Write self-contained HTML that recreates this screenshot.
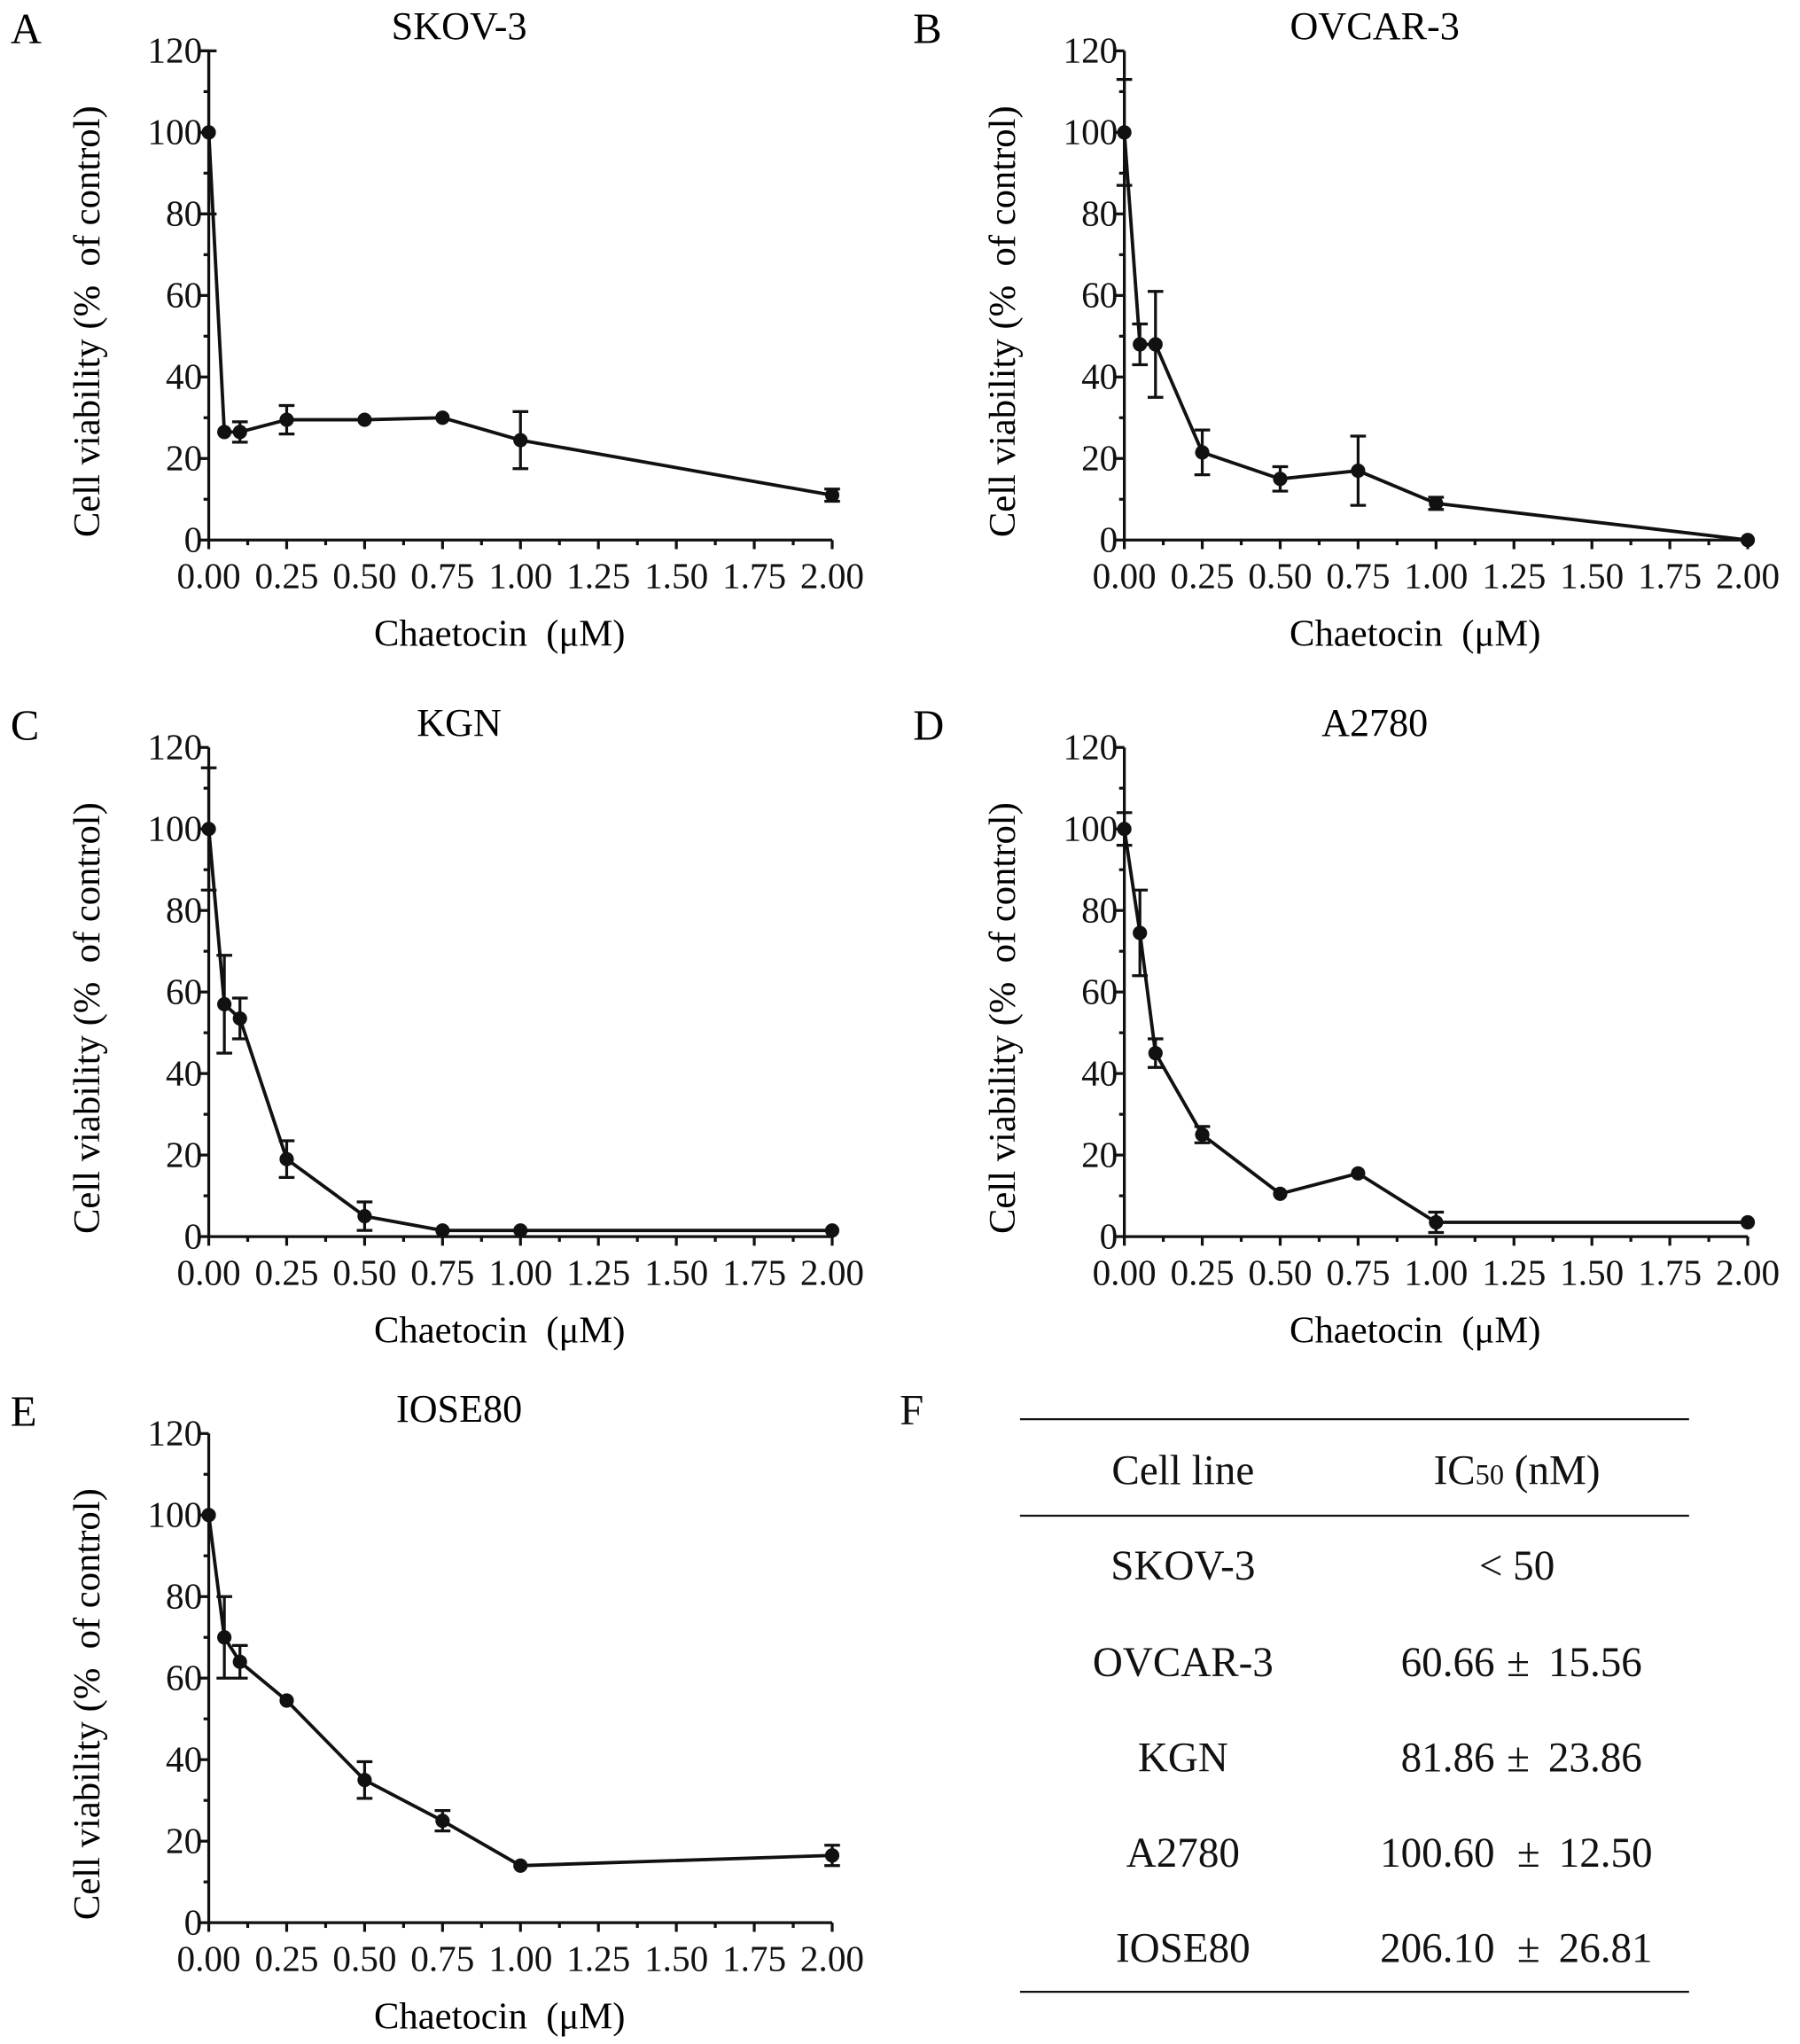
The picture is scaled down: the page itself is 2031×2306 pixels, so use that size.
<!DOCTYPE html>
<html><head><meta charset="utf-8"><style>
html,body{margin:0;padding:0;background:#fff;}
svg{display:block;font-family:"Liberation Serif",serif;}
</style></head><body>
<svg id="fig" width="2031" height="2306" viewBox="0 0 1380 1567" xmlns="http://www.w3.org/2000/svg">
<rect width="1380" height="1567" fill="#fff"/>
<g id="plots"></g>
<g font-size="32" text-anchor="middle" fill="#111">
<text x="699" y="1092" font-size="33">F</text>
<line x1="782" y1="1088" x2="1295" y2="1088" stroke="#111" stroke-width="1.5"/>
<line x1="782" y1="1162" x2="1295" y2="1162" stroke="#111" stroke-width="1.5"/>
<line x1="782" y1="1527" x2="1295" y2="1527" stroke="#111" stroke-width="1.5"/>
<text x="907" y="1138">Cell line</text>
<text x="1163" y="1138">IC<tspan font-size="22">50</tspan> (nM)</text>
<text x="907" y="1211">SKOV-3</text><text x="1163" y="1211">&lt; 50</text>
<text x="907" y="1285">OVCAR-3</text>
<text x="907" y="1358">KGN</text>
<text x="907" y="1431">A2780</text>
<text x="907" y="1504">IOSE80</text>
<g text-anchor="end"><text x="1146" y="1285">60.66</text><text x="1146" y="1358">81.86</text><text x="1146" y="1431">100.60</text><text x="1146" y="1504">206.10</text></g>
<g><text x="1164" y="1285">±</text><text x="1164" y="1358">±</text><text x="1172" y="1431">±</text><text x="1172" y="1504">±</text></g>
<g text-anchor="start"><text x="1187" y="1285">15.56</text><text x="1187" y="1358">23.86</text><text x="1195" y="1431">12.50</text><text x="1195" y="1504">26.81</text></g>
</g>
</svg>
<script>
const doses = [0, 0.05, 0.1, 0.25, 0.5, 0.75, 1, 2];
const skovMean = [100, 26.5, 26.5, 29.5, 29.5, 30, 24.5, 11];
const skovErr = [20, 0, 2.5, 3.5, 0, 0, 7, 1.5];
const ovcarMean = [100, 48, 48, 21.5, 15, 17, 9, 0];
const ovcarErr = [13, 5, 13, 5.5, 3, 8.5, 1.5, 0];
const kgnMean = [100, 57, 53.5, 19, 5, 1.5, 1.5, 1.5];
const kgnErr = [15, 12, 5, 4.5, 3.5, 0, 0, 0];
const a2780Mean = [100, 74.5, 45, 25, 10.5, 15.5, 3.5, 3.5];
const a2780Err = [4, 10.5, 3.5, 2, 0, 0, 2.5, 0];
const ioseMean = [100, 70, 64, 54.5, 35, 25, 14, 16.5];
const ioseErr = [0, 10, 4, 0, 4.5, 2.5, 0, 2.5];
const xTicks = ["0.00","0.25","0.50","0.75","1.00","1.25","1.50","1.75","2.00"];
const yTicks = ["0","20","40","60","80","100","120"];

const NS = "http://www.w3.org/2000/svg";
const root = document.getElementById('plots');
function mk(tag, attrs, parent, text){
  const e = document.createElementNS(NS, tag);
  for (const k in attrs) e.setAttribute(k, attrs[k]);
  if (text !== undefined) e.textContent = text;
  parent.appendChild(e); return e;
}
function panel(letter, title, ox, oy, mean, err, lx){
  const g = mk('g', {}, root);
  
  
  const x0 = ox, x1 = ox + 478, y0 = oy, yTop = oy - 375;
  const sx = v => x0 + v / 2 * (x1 - x0);
  const sy = v => y0 - v / 120 * (y0 - yTop);
  const L = mk('text', {x: lx, y: yTop - 6, 'font-size': 33}, g, letter);
  
  
  const T = mk('text', {x: ox + 192, y: yTop - 9, 'font-size': 30, 'text-anchor': 'middle'}, g, title);
  
  
  const ax = mk('g', {stroke: '#111', 'stroke-width': 2.2}, g);
  
  
  mk('line', {x1: x0, y1: y0, x2: x0, y2: yTop}, ax);
  mk('line', {x1: x0, y1: y0, x2: x1, y2: y0}, ax);
  for (let v = 0; v <= 120; v += 10) {
    const major = v % 20 === 0;
    mk('line', {x1: x0 - (major ? 7 : 4), y1: sy(v), x2: x0, y2: sy(v)}, ax);
  }
  for (let i = 0; i <= 16; i++) {
    const major = i % 2 === 0;
    const xx = sx(i * 0.125);
    mk('line', {x1: xx, y1: y0, x2: xx, y2: y0 + (major ? 7 : 4)}, ax);
  }
  const tl = mk('g', {'font-size': 28, fill: '#111'}, g);
  
  
  yTicks.forEach(t => mk('text', {x: x0 - 5, y: sy(+t) + 9, 'text-anchor': 'end'}, tl, t));
  xTicks.forEach(t => mk('text', {x: sx(+t), y: y0 + 37, 'text-anchor': 'middle'}, tl, t));
  const yt = mk('text', {x: 0, y: 0, 'font-size': 29, 'text-anchor': 'middle', style: 'white-space:pre', transform: `translate(${x0 - 84},${(y0 + yTop) / 2 + 20}) rotate(-90)`}, g, 'Cell viability (%  of control)');
  
  
  const xt = mk('text', {x: ox + 223, y: y0 + 81, 'font-size': 29, 'text-anchor': 'middle', style: 'white-space:pre'}, g, 'Chaetocin  (μM)');
  
  
  const pts = doses.map((d, i) => sx(d) + ',' + sy(mean[i])).join(' ');
  const line = mk('polyline', {points: pts, fill: 'none', stroke: '#111', 'stroke-width': 2.6}, g);
  
  
  doses.forEach((d, i) => {
    const cx = sx(d), cy = sy(mean[i]);
    if (err[i] > 0) {
      const eb = mk('g', {stroke: '#111', 'stroke-width': 2.2}, g);
      
      
      const a = sy(mean[i] + err[i]), b = sy(Math.max(0, mean[i] - err[i]));
      mk('line', {x1: cx, y1: a, x2: cx, y2: b}, eb);
      mk('line', {x1: cx - 6, y1: a, x2: cx + 6, y2: a}, eb);
      mk('line', {x1: cx - 6, y1: b, x2: cx + 6, y2: b}, eb);
    }
    const c = mk('circle', {cx: cx, cy: cy, r: 5.5, fill: '#111'}, g);
    
    
  });
}
panel('A', 'SKOV-3', 160, 414, skovMean, skovErr, 8);
panel('B', 'OVCAR-3', 862, 414, ovcarMean, ovcarErr, 700);
panel('C', 'KGN', 160, 948, kgnMean, kgnErr, 8);
panel('D', 'A2780', 862, 948, a2780Mean, a2780Err, 700);
panel('E', 'IOSE80', 160, 1474, ioseMean, ioseErr, 8);
</script>
</body></html>
